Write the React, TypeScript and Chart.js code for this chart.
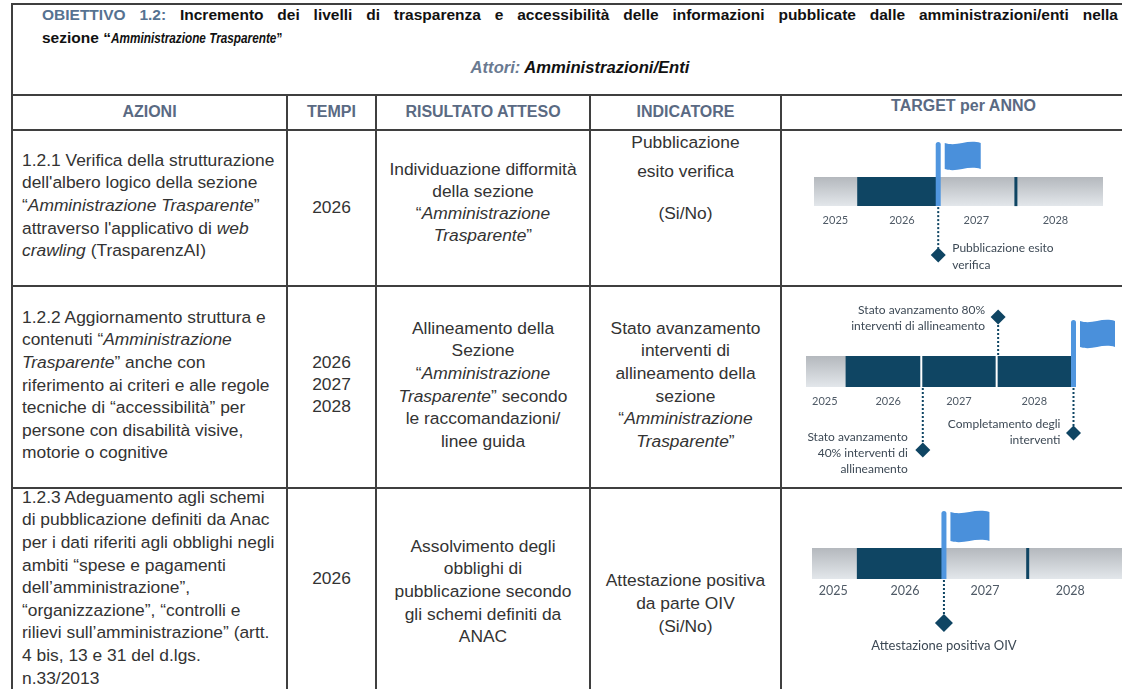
import React, { useEffect, useRef } from "react";
import { Chart, registerables } from "chart.js";

Chart.register(...registerables);

// ---------------- timeline data ----------------
const YEAR_LABELS = ["2025", "2026", "2027", "2028"];
const YEAR_LABEL_AT = [2025.72, 2026.56, 2027.5, 2028.5];
const YEAR_DIVIDERS = [2027, 2028];

// 1.2.1
const T1_SPAN = [2025.45, 2029.1];
const T1_PROGRESS = [2026, 2027];
const T1_TARGET = 2027;
const T1_MILESTONES = [2027];
const T1_NOTES = [["Pubblicazione esito", "verifica"]];

// 1.2.2
const T2_SPAN = [2025.47, 2029.0];
const T2_PROGRESS = [2026, 2029];
const T2_TARGET = 2029;
const T2_MILESTONES = [2028, 2027, 2029];
const T2_NOTES = [
  ["Stato avanzamento 80%", "interventi di allineamento"],
  ["Stato avanzamento", "40% interventi di", "allineamento"],
  ["Completamento degli", "interventi"],
];

// 1.2.3
const T3_SPAN = [2025.47, 2029.2];
const T3_PROGRESS = [2026, 2027];
const T3_TARGET = 2027;
const T3_MILESTONES = [2027];
const T3_NOTES = [["Attestazione positiva OIV"]];

// ---------------- styles ----------------
const NAVY = "#0f4563";
const FLAG_BLUE = "#4a90db";
const POLE_BLUE = "#5096df";
const TICK_COLOR = "#4f5a66";
const NOTE_COLOR = "#3d4955";
const CHART_FONT = "Lato, 'Open Sans', sans-serif";
const TABLE_FONT = "'Liberation Sans', Arial, Helvetica, sans-serif";
const BODY_COLOR = "#333333";
const HEAD_COLOR = "#5a6a83";
const STEEL = "#567291";
const RULE = "#3f3f3f";

const CANVAS_LEFT = 782;
const CANVAS_W = 360;

type NoteStyle = {
  side: "above" | "below";
  dist: number;
  align: "left" | "right" | "center";
  dx: number;
  dy: number;
};

type TLStyle = {
  top: number;
  height: number;
  barLeft: number;
  barRight: number;
  barTop: number;
  barH: number;
  tickPad: number;
  tickSize: number;
  noteSize: number;
  noteLH: number;
  diamond: number;
  flagW: number;
  flagH: number;
  poleRise: number;
  notes: NoteStyle[];
};

type TLSpec = {
  span: number[];
  progress: number[];
  target: number;
  milestones: number[];
  notes: string[][];
  style: TLStyle;
};

const T1_STYLE: TLStyle = {
  top: 131, height: 154, barLeft: 814, barRight: 1103, barTop: 177, barH: 29,
  tickPad: 8, tickSize: 11, noteSize: 12, noteLH: 17, diamond: 7.5,
  flagW: 36, flagH: 27, poleRise: 35,
  notes: [{ side: "below", dist: 49, align: "left", dx: 14, dy: -7 }],
};

const T2_STYLE: TLStyle = {
  top: 287, height: 201, barLeft: 806, barRight: 1072, barTop: 356, barH: 31,
  tickPad: 8, tickSize: 11, noteSize: 12, noteLH: 16, diamond: 7.5,
  flagW: 35, flagH: 27, poleRise: 36,
  notes: [
    { side: "above", dist: 39, align: "right", dx: -13, dy: -7 },
    { side: "below", dist: 63, align: "right", dx: -15, dy: -13 },
    { side: "below", dist: 46, align: "right", dx: -13, dy: -9 },
  ],
};

const T3_STYLE: TLStyle = {
  top: 489, height: 200, barLeft: 812, barRight: 1130, barTop: 548, barH: 31,
  tickPad: 4, tickSize: 12.5, noteSize: 13, noteLH: 17, diamond: 9,
  flagW: 39, flagH: 30, poleRise: 37,
  notes: [{ side: "below", dist: 44, align: "center", dx: 0, dy: 23 }],
};

const TIMELINES: TLSpec[] = [
  { span: T1_SPAN, progress: T1_PROGRESS, target: T1_TARGET, milestones: T1_MILESTONES, notes: T1_NOTES, style: T1_STYLE },
  { span: T2_SPAN, progress: T2_PROGRESS, target: T2_TARGET, milestones: T2_MILESTONES, notes: T2_NOTES, style: T2_STYLE },
  { span: T3_SPAN, progress: T3_PROGRESS, target: T3_TARGET, milestones: T3_MILESTONES, notes: T3_NOTES, style: T3_STYLE },
];

// ---------------- chart helpers ----------------
function grayGradient(ctx: any) {
  const chart = ctx.chart;
  const a = chart.chartArea;
  if (!a) return "#cfd3d7";
  const g = chart.ctx.createLinearGradient(0, a.top, 0, a.bottom);
  g.addColorStop(0, "#b4b8bd");
  g.addColorStop(1, "#e3e7eb");
  return g;
}

function makeMarksPlugin(t: TLSpec) {
  const s = t.style;
  return {
    id: "timelineMarks",
    afterDatasetsDraw(chart: any) {
      const { ctx, chartArea: a } = chart;
      const x = chart.scales.x;
      ctx.save();
      // year dividers
      YEAR_DIVIDERS.forEach((d) => {
        if (d === t.target) return;
        const px = x.getPixelForValue(d);
        const inside = d > t.progress[0] && d < t.progress[1];
        ctx.fillStyle = inside ? "#ffffff" : NAVY;
        const w = inside ? 2 : 3;
        ctx.fillRect(px - w / 2, a.top, w, a.bottom - a.top);
      });

      // flag
      const fx = x.getPixelForValue(t.target);
      const poleTop = a.top - s.poleRise;
      ctx.fillStyle = POLE_BLUE;
      ctx.beginPath();
      ctx.moveTo(fx - 1, a.bottom);
      ctx.lineTo(fx - 1, poleTop + 2.5);
      ctx.arc(fx + 1.5, poleTop + 2.5, 2.5, Math.PI, 0);
      ctx.lineTo(fx + 4, a.bottom);
      ctx.closePath();
      ctx.fill();

      const x0 = fx + 8;
      const y0 = poleTop;
      const w = s.flagW;
      const h = s.flagH;
      ctx.fillStyle = FLAG_BLUE;
      ctx.beginPath();
      ctx.moveTo(x0, y0 + 1);
      ctx.bezierCurveTo(x0 + w * 0.35, y0 + 5, x0 + w * 0.62, y0 - 3, x0 + w, y0 + 1);
      ctx.lineTo(x0 + w, y0 + h);
      ctx.bezierCurveTo(x0 + w * 0.62, y0 + h - 4, x0 + w * 0.35, y0 + h + 4, x0, y0 + h);
      ctx.closePath();
      ctx.fill();

      // milestones
      t.milestones.forEach((m, i) => {
        const ns = s.notes[i];
        const mx = x.getPixelForValue(m) + 1.5;
        const below = ns.side === "below";
        const my = below ? a.bottom + ns.dist : a.top - ns.dist;
        ctx.strokeStyle = NAVY;
        ctx.lineWidth = 2;
        ctx.setLineDash([2, 2]);
        ctx.beginPath();
        if (below) {
          ctx.moveTo(mx, a.bottom + 1);
          ctx.lineTo(mx, my - s.diamond + 1);
        } else {
          ctx.moveTo(mx, a.top - 1);
          ctx.lineTo(mx, my + s.diamond - 1);
        }
        ctx.stroke();
        ctx.setLineDash([]);

        const d = s.diamond;
        ctx.fillStyle = NAVY;
        ctx.beginPath();
        ctx.moveTo(mx, my - d);
        ctx.lineTo(mx + d, my);
        ctx.lineTo(mx, my + d);
        ctx.lineTo(mx - d, my);
        ctx.closePath();
        ctx.fill();

        ctx.fillStyle = NOTE_COLOR;
        ctx.font = `${s.noteSize}px ${CHART_FONT}`;
        ctx.textAlign = ns.align;
        ctx.textBaseline = "middle";
        t.notes[i].forEach((line, k) => {
          ctx.fillText(line, mx + ns.dx, my + ns.dy + k * s.noteLH);
        });
      });
      ctx.restore();
    },
  };
}

function Timeline({ spec }: { spec: TLSpec }) {
  const ref = useRef<HTMLCanvasElement | null>(null);
  useEffect(() => {
    const s = spec.style;
    const tickLH = s.tickSize * 1.2;
    const padTop = s.barTop - s.top;
    const padBottom = s.height - padTop - s.barH - (tickLH + 2 * s.tickPad);
    const chart = new Chart(ref.current as HTMLCanvasElement, {
      type: "bar",
      data: {
        labels: ["Timeline"],
        datasets: [
          {
            label: "Avanzamento",
            data: [spec.progress as any],
            backgroundColor: NAVY,
            borderWidth: 0,
            grouped: false,
            barPercentage: 1,
            categoryPercentage: 1,
          } as any,
          {
            label: "Periodo",
            data: [spec.span as any],
            backgroundColor: grayGradient,
            borderWidth: 0,
            grouped: false,
            barPercentage: 1,
            categoryPercentage: 1,
          } as any,
        ],
      },
      options: {
        indexAxis: "y",
        animation: false,
        responsive: false,
        maintainAspectRatio: false,
        layout: {
          padding: {
            left: s.barLeft - CANVAS_LEFT,
            right: CANVAS_LEFT + CANVAS_W - s.barRight,
            top: padTop,
            bottom: padBottom,
          },
        },
        plugins: { legend: { display: false }, tooltip: { enabled: false } },
        scales: {
          x: {
            type: "linear",
            min: spec.span[0],
            max: spec.span[1],
            grid: { display: false, drawTicks: false },
            border: { display: false },
            afterBuildTicks: (scale: any) => {
              scale.ticks = YEAR_LABEL_AT.map((v) => ({ value: v }));
            },
            ticks: {
              autoSkip: false,
              maxRotation: 0,
              minRotation: 0,
              padding: s.tickPad,
              color: TICK_COLOR,
              font: { family: CHART_FONT, size: s.tickSize },
              callback: (_v: any, i: number) => YEAR_LABELS[i],
            },
          },
          y: { display: false },
        },
      } as any,
      plugins: [makeMarksPlugin(spec)],
    });
    return () => chart.destroy();
  }, [spec]);
  return (
    <canvas
      ref={ref}
      width={CANVAS_W}
      height={spec.style.height}
      style={{ position: "absolute", left: CANVAS_LEFT, top: spec.style.top, width: CANVAS_W, height: spec.style.height }}
    />
  );
}

// ---------------- table helpers ----------------
const LH = 22.6;
const BODY_SIZE = 17.4;

function seq(first: number, n: number, step = LH) {
  return Array.from({ length: n }, (_, i) => first + i * step);
}

function Cell({
  left, width, ys, lines, align = "center", size = BODY_SIZE, color = BODY_COLOR, bold = false, padLeft = 0,
}: {
  left: number; width: number; ys: number[]; lines: React.ReactNode[]; align?: "left" | "center" | "right";
  size?: number; color?: string; bold?: boolean; padLeft?: number;
}) {
  return (
    <>
      {lines.map((ln, i) => (
        <div
          key={i}
          style={{
            position: "absolute",
            left: left + padLeft,
            width: width - padLeft,
            top: ys[i] - LH / 2,
            height: LH,
            lineHeight: `${LH}px`,
            textAlign: align,
            whiteSpace: "nowrap",
            fontFamily: TABLE_FONT,
            fontSize: size,
            fontWeight: bold ? 700 : 400,
            color,
          }}
        >
          {ln}
        </div>
      ))}
    </>
  );
}

const I = ({ children }: { children: React.ReactNode }) => <i>{children}</i>;

const COLX = [12, 287, 376, 590, 781];
const ROWY = [4, 95, 130, 286, 488];

function HLine({ y }: { y: number }) {
  return <div style={{ position: "absolute", left: 12, width: 1200, top: y - 1, height: 2, background: RULE }} />;
}
function VLine({ x, y0, y1 }: { x: number; y0: number; y1: number }) {
  return <div style={{ position: "absolute", left: x - 1, width: 2, top: y0, height: y1 - y0, background: RULE }} />;
}

export default function App() {
  useEffect(() => {
    document.body.style.margin = "0";
    document.body.style.overflow = "hidden";
  }, []);

  const title: React.CSSProperties = {
    position: "absolute",
    fontFamily: TABLE_FONT,
    fontSize: 15.5,
    fontWeight: 700,
    color: "#111",
    whiteSpace: "nowrap",
    lineHeight: "20px",
    height: 20,
  };

  return (
    <div style={{ position: "fixed", left: 0, top: 0, width: 1122, height: 689, overflow: "hidden", background: "#ffffff" }}>
      {/* grid */}
      {ROWY.map((y) => <HLine key={y} y={y} />)}
      <VLine x={COLX[0]} y0={3} y1={700} />
      {COLX.slice(1).map((x) => <VLine key={x} x={x} y0={94} y1={700} />)}

      {/* title */}
      <div style={{ ...title, left: 42, top: 5, width: 1076, textAlign: "justify", textAlignLast: "justify", whiteSpace: "normal" } as React.CSSProperties}>
        <span style={{ color: STEEL }}>OBIETTIVO 1.2:</span> Incremento dei livelli di trasparenza e accessibilità delle informazioni pubblicate dalle amministrazioni/enti nella
      </div>
      <div style={{ ...title, left: 42, top: 28 }}>
        sezione “
        <span style={{ display: "inline-block", transform: "scaleX(0.76)", transformOrigin: "0 50%" }}>
          <i>Amministrazione Trasparente</i>”
        </span>
      </div>
      <div style={{ ...title, left: 380, width: 400, top: 58, textAlign: "center", fontSize: 16.6, fontStyle: "italic" }}>
        <span style={{ color: "#6a7a91" }}>Attori:</span> Amministrazioni/Enti
      </div>

      {/* column headers */}
      <Cell left={12} width={275} ys={[112]} lines={["AZIONI"]} bold size={16} color={HEAD_COLOR} />
      <Cell left={287} width={89} ys={[112]} lines={["TEMPI"]} bold size={16} color={HEAD_COLOR} />
      <Cell left={376} width={214} ys={[112]} lines={["RISULTATO ATTESO"]} bold size={16} color={HEAD_COLOR} />
      <Cell left={590} width={191} ys={[112]} lines={["INDICATORE"]} bold size={16} color={HEAD_COLOR} />
      <Cell left={781} width={365} ys={[106]} lines={["TARGET per ANNO"]} bold size={16} color={HEAD_COLOR} />

      {/* row 1.2.1 */}
      <Cell left={12} width={275} padLeft={10} align="left" ys={seq(160, 5)} lines={[
        "1.2.1 Verifica della strutturazione",
        "dell'albero logico della sezione",
        <>“<I>Amministrazione Trasparente</I>”</>,
        <>attraverso l'applicativo di <I>web</I></>,
        <><I>crawling</I> (TrasparenzAI)</>,
      ]} />
      <Cell left={287} width={89} ys={[207]} lines={["2026"]} />
      <Cell left={376} width={214} ys={seq(169, 4, 22)} lines={[
        "Individuazione difformità",
        "della sezione",
        <>“<I>Amministrazione</I></>,
        <><I>Trasparente</I>”</>,
      ]} />
      <Cell left={590} width={191} ys={[142, 171, 213]} lines={["Pubblicazione", "esito verifica", "(Si/No)"]} />

      {/* row 1.2.2 */}
      <Cell left={12} width={275} padLeft={10} align="left" ys={seq(317, 7)} lines={[
        "1.2.2 Aggiornamento struttura e",
        <>contenuti “<I>Amministrazione</I></>,
        <><I>Trasparente</I>” anche con</>,
        "riferimento ai criteri e alle regole",
        "tecniche di “accessibilità” per",
        "persone con disabilità visive,",
        "motorie o cognitive",
      ]} />
      <Cell left={287} width={89} ys={seq(362, 3, 22)} lines={["2026", "2027", "2028"]} />
      <Cell left={376} width={214} ys={seq(328, 6)} lines={[
        "Allineamento della",
        "Sezione",
        <>“<I>Amministrazione</I></>,
        <><I>Trasparente</I>” secondo</>,
        "le raccomandazioni/",
        "linee guida",
      ]} />
      <Cell left={590} width={191} ys={seq(328, 6)} lines={[
        "Stato avanzamento",
        "interventi di",
        "allineamento della",
        "sezione",
        <>“<I>Amministrazione</I></>,
        <><I>Trasparente</I>”</>,
      ]} />

      {/* row 1.2.3 */}
      <Cell left={12} width={275} padLeft={10} align="left" ys={seq(497, 9)} lines={[
        "1.2.3 Adeguamento agli schemi",
        "di pubblicazione definiti da Anac",
        "per i dati riferiti agli obblighi negli",
        "ambiti “spese e pagamenti",
        "dell’amministrazione”,",
        "“organizzazione”, “controlli e",
        "rilievi sull’amministrazione” (artt.",
        "4 bis, 13 e 31 del d.lgs.",
        "n.33/2013",
      ]} />
      <Cell left={287} width={89} ys={[578]} lines={["2026"]} />
      <Cell left={376} width={214} ys={seq(546, 5)} lines={[
        "Assolvimento degli",
        "obblighi di",
        "pubblicazione secondo",
        "gli schemi definiti da",
        "ANAC",
      ]} />
      <Cell left={590} width={191} ys={seq(580, 3, 23)} lines={["Attestazione positiva", "da parte OIV", "(Si/No)"]} />

      {/* timelines */}
      {TIMELINES.map((t, i) => <Timeline key={i} spec={t} />)}
    </div>
  );
}
